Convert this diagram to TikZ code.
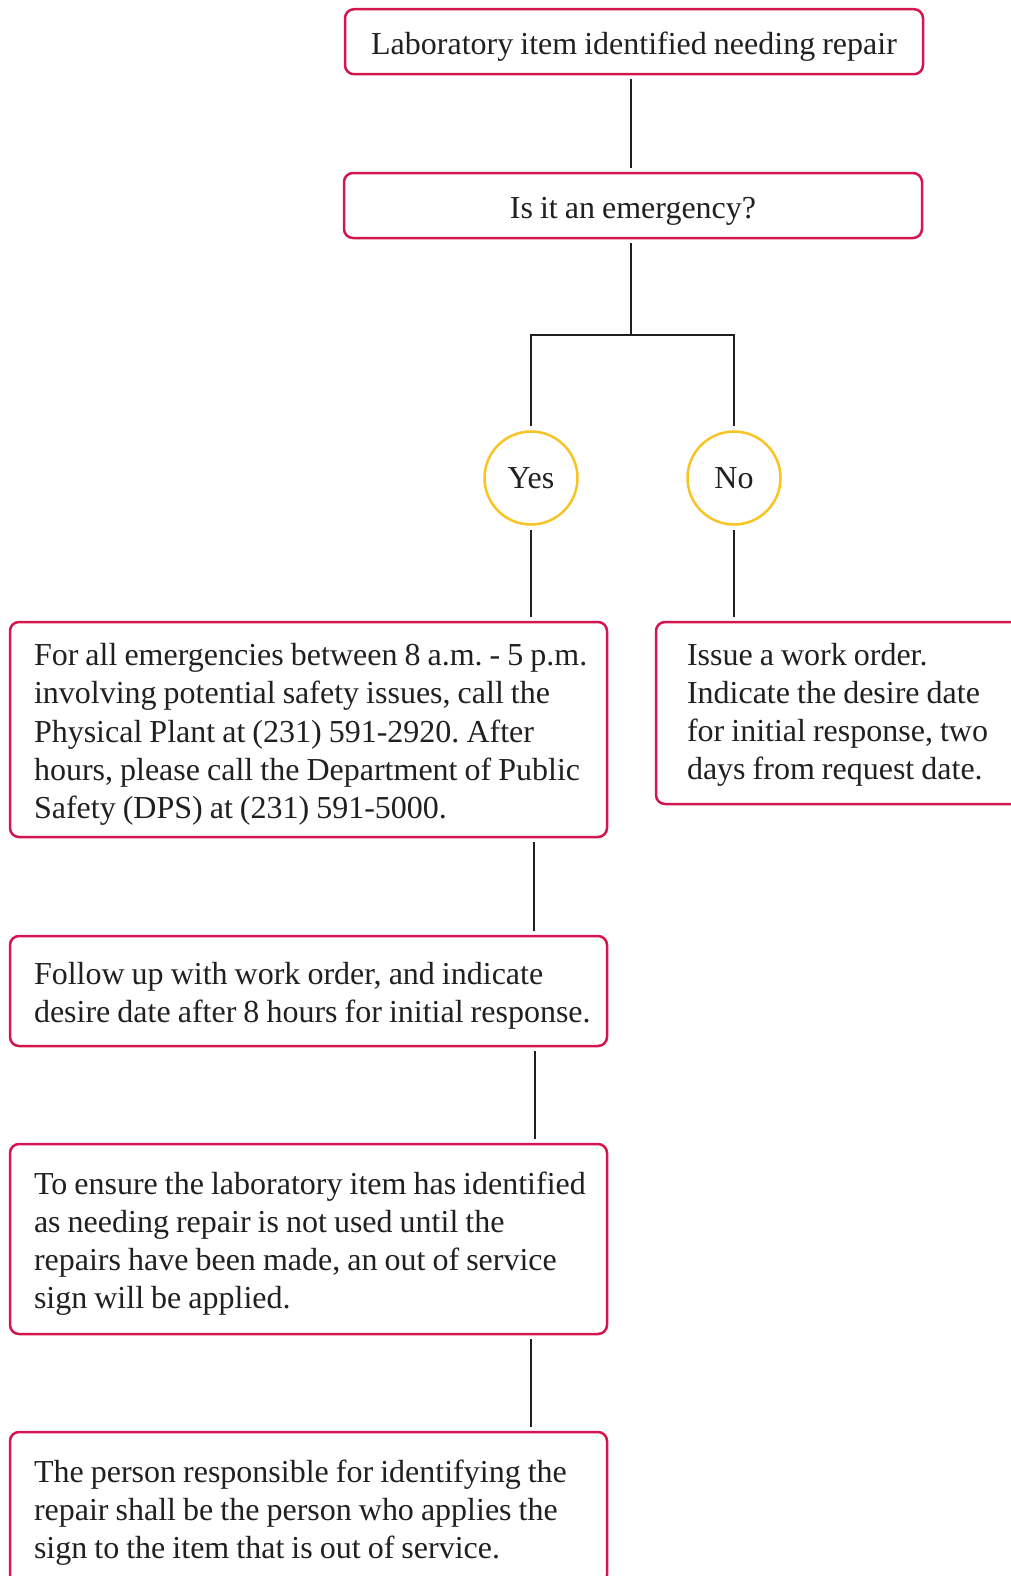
\documentclass[tikz,border=0pt]{standalone}
\usepackage{fontspec}
\setmainfont{Liberation Serif}
\frenchspacing
\definecolor{crimson}{RGB}{212,22,80}
\definecolor{gold}{RGB}{249,196,34}
\definecolor{ink}{RGB}{35,31,32}
\newcommand{\lineof}[1]{\mbox{\spaceskip=0.22em\xspaceskip=0.22em\relax #1}}
\newcommand{\lowerstrut}{\rule{0pt}{32pt}}
\newcommand{\boxfont}{\fontsize{32}{38.2}\selectfont\spaceskip=0.22em\relax}
\begin{document}
\begin{tikzpicture}[x=1pt,y=-1pt,
  box/.style={draw=crimson, line width=2.5pt, rounded corners=9pt, text=ink, inner xsep=0pt, inner ysep=0pt,
     font=\boxfont},
  txtbox/.style={box, align=left, inner xsep=24pt},
  ans/.style={circle, draw=gold, line width=2.5pt, minimum size=93pt, inner sep=0pt, text=ink,
     font=\boxfont},
  conn/.style={draw=ink, line width=2.5pt, shorten <=4pt, shorten >=4pt}]
\useasboundingbox (0,0) rectangle (1010,1576);
\node[box, minimum width=578pt, minimum height=65pt] (top) at (634,41.7) {\lowerstrut Laboratory item identified needing repair};
\node[box, minimum width=578pt, minimum height=65pt] (q) at (633,205.5) {\lowerstrut Is it an emergency?};
\coordinate (br) at (631,335);
\node[ans] (yes) at (531,478) {Yes};
\node[ans] (no) at (734,478) {No};
\node[txtbox, text width=549pt, minimum height=215pt] (yb) at (308.5,729.5)
  {\lineof{\lowerstrut For all emergencies between 8 a.m. - 5 p.m.}\\ \lineof{involving potential safety issues, call the}\\ \lineof{Physical Plant at (231) 591-2920. After}\\ \lineof{hours, please call the Department of Public}\\ \lineof{Safety (DPS) at (231) 591-5000.}};
\node[txtbox, inner xsep=31pt, text width=330pt, minimum height=182pt] (nb) at (852,713)
  {\lineof{\rule{0pt}{26pt}Issue a work order.}\\ \lineof{Indicate the desire date}\\ \lineof{for initial response, two}\\ \lineof{days from request date.}};
\node[txtbox, text width=549pt, minimum height=110pt] (b4) at (308.5,991)
  {\lineof{\lowerstrut Follow up with work order, and indicate}\\ \lineof{desire date after 8 hours for initial response.}};
\node[txtbox, text width=549pt, minimum height=190pt] (b5) at (308.5,1239)
  {\lineof{\lowerstrut To ensure the laboratory item has identified}\\ \lineof{as needing repair is not used until the}\\ \lineof{repairs have been made, an out of service}\\ \lineof{sign will be applied.}};
\node[txtbox, text width=549pt, minimum height=152pt] (b6) at (308.5,1508)
  {\lineof{\lowerstrut The person responsible for identifying the}\\ \lineof{repair shall be the person who applies the}\\ \lineof{sign to the item that is out of service.}};
\draw[conn] (top.south -| br) -- (q.north -| br);
\draw[conn, shorten >=0pt] (q.south -| br) -- (br);
\draw[conn] (yes.north) |- (br) -| (no.north);
\draw[conn] (yes.south) -- (yes.south |- yb.north);
\draw[conn] (no.south) -- (no.south |- nb.north);
\draw[conn] ([xshift=3pt]yes.south |- yb.south) -- ([xshift=3pt]yes.south |- b4.north);
\draw[conn] ([xshift=4pt]yes.south |- b4.south) -- ([xshift=4pt]yes.south |- b5.north);
\draw[conn] (yes.south |- b5.south) -- (yes.south |- b6.north);
\end{tikzpicture}
\end{document}
